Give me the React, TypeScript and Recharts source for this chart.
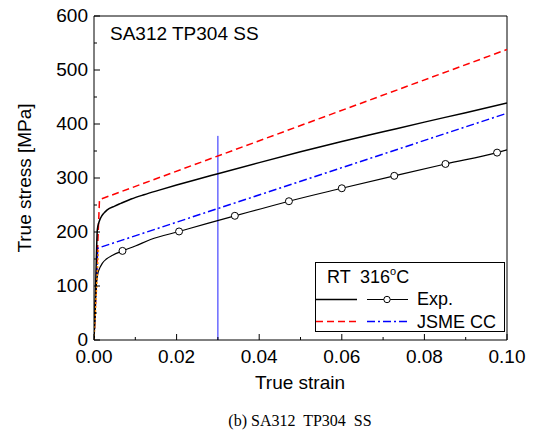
import React from 'react';
import { LineChart, Line, XAxis, YAxis, ReferenceLine } from 'recharts';

// RT experiment (solid black)
const rtStrain = [0, 0.0002, 0.0004, 0.0006, 0.0008, 0.0012, 0.0016, 0.0024, 0.0032, 0.005, 0.0065, 0.009, 0.0121, 0.016, 0.02, 0.0242, 0.03, 0.04, 0.05, 0.06, 0.07, 0.08, 0.09, 0.1];
const rtStress = [0, 45, 100, 160, 204, 218, 226, 235, 241, 248, 253, 261, 269, 278, 287, 296, 308, 328.5, 348.5, 367.5, 385.5, 403.5, 421, 439];

// 316C experiment (black with circles)
const htStrain = [0, 0.0003, 0.0006, 0.001, 0.0015, 0.002, 0.003, 0.0045, 0.0069, 0.01, 0.0137, 0.0206, 0.0275, 0.0341, 0.0405, 0.0472, 0.06, 0.0727, 0.0851, 0.0976, 0.1];
const htStress = [0, 60, 105, 125, 135, 142, 150, 157, 165, 174, 186, 201, 216, 230, 243, 257, 281, 304, 326, 347, 352];
const markerStrain = [0.0069, 0.0206, 0.0341, 0.0472, 0.06, 0.0727, 0.0851, 0.0976];
const markerStress = [165, 201, 230, 257, 281, 304, 326, 347];

// JSME CC curves
const jsmeRtStrain = [0, 0.00133, 0.1];
const jsmeRtStress = [0, 260, 538];
const jsmeHtStrain = [0, 0.0009, 0.1];
const jsmeHtStress = [0, 170, 420];
const elasticStrain = [0, 0.0011];
const elasticStress = [0, 170];

// vertical marker at 3% strain
const cutStrain = [0.03, 0.03];
const cutStress = [0, 378];

const xTicks = [0, 0.01, 0.02, 0.03, 0.04, 0.05, 0.06, 0.07, 0.08, 0.09, 0.1];
const yTicks = [0, 50, 100, 150, 200, 250, 300, 350, 400, 450, 500, 550, 600];

const zip = (xs: number[], ys: number[]) => xs.map((x, i) => ({ x, y: ys[i] }));

const FONT = '"Liberation Sans", Arial, sans-serif';

const YTick = (props: any) => {
  const { x, y, payload } = props;
  const major = payload.value % 100 === 0;
  return (
    <g>
      <line x1={x} x2={x + (major ? 6 : 3)} y1={y} y2={y} stroke="#000" />
      {major && (
        <text x={x - 6} y={y - 1} dy="0.36em" textAnchor="end" fontSize={19} fontFamily={FONT} fill="#000">
          {payload.value}
        </text>
      )}
    </g>
  );
};

const XTick = (props: any) => {
  const { x, y, payload } = props;
  const major = Math.round(payload.value * 100) % 2 === 0;
  return (
    <g>
      <line x1={x} x2={x} y1={y} y2={y - (major ? 6 : 3)} stroke="#000" />
      {major && (
        <text x={x} y={y + 23} textAnchor="middle" fontSize={19} fontFamily={FONT} fill="#000">
          {payload.value.toFixed(2)}
        </text>
      )}
    </g>
  );
};

export default function App() {
  return (
    <div style={{ position: 'relative', width: 538, height: 442, margin: -8, background: '#fff' }}>
      <LineChart width={538} height={442} margin={{ top: 16, right: 31, left: 0, bottom: 0 }}>
        <XAxis
          type="number"
          dataKey="x"
          domain={[0, 0.1]}
          ticks={xTicks}
          tick={<XTick />}
          tickLine={false}
          tickSize={0}
          tickMargin={0}
          height={102}
          axisLine={{ stroke: '#000' }}
          allowDataOverflow
        />
        <YAxis
          type="number"
          dataKey="y"
          domain={[0, 600]}
          ticks={yTicks}
          tick={<YTick />}
          tickLine={false}
          tickSize={0}
          tickMargin={0}
          width={94}
          axisLine={{ stroke: '#000' }}
          allowDataOverflow
        />
        <ReferenceLine y={600} stroke="#000" />
        <ReferenceLine x={0.1} stroke="#000" />
        <Line data={zip(cutStrain, cutStress)} dataKey="y" stroke="#2020ff" strokeWidth={1} dot={false} isAnimationActive={false} />
        <Line data={zip(jsmeRtStrain, jsmeRtStress)} dataKey="y" stroke="#ff0000" strokeWidth={1.5} strokeDasharray="7 4" dot={false} isAnimationActive={false} />
        <Line data={zip(jsmeHtStrain, jsmeHtStress)} dataKey="y" stroke="#0000ff" strokeWidth={1.5} strokeDasharray="8 3 2 3" dot={false} isAnimationActive={false} />
        <Line data={zip(rtStrain, rtStress)} type="monotone" dataKey="y" stroke="#000" strokeWidth={1.5} dot={false} isAnimationActive={false} />
        <Line data={zip(htStrain, htStress)} type="monotone" dataKey="y" stroke="#000" strokeWidth={1.2} dot={false} isAnimationActive={false} />
        <Line data={zip(elasticStrain, elasticStress)} dataKey="y" stroke="#ff8c00" strokeWidth={1.5} strokeDasharray="2 2" dot={false} isAnimationActive={false} />
        <Line
          data={zip(markerStrain, markerStress)}
          dataKey="y"
          stroke="none"
          dot={{ r: 3.5, fill: '#fff', stroke: '#000', strokeWidth: 1 }}
          isAnimationActive={false}
        />
      </LineChart>

      <svg width={538} height={442} style={{ position: 'absolute', left: 0, top: 0, pointerEvents: 'none' }} fontFamily={FONT}>
        <text x={110} y={40} fontSize={19}>SA312 TP304 SS</text>
        <text x={300} y={389} fontSize={19} textAnchor="middle">True strain</text>
        <text transform="translate(31,178) rotate(-90)" fontSize={19} textAnchor="middle">True stress [MPa]</text>

        {/* legend */}
        <rect x={315.5} y={262.5} width={189} height={69} fill="#fff" stroke="#000" />
        <text x={327} y={283} fontSize={18}>RT</text>
        <text x={360} y={283} fontSize={18}>
          316<tspan fontSize={11} dy={-8}>o</tspan><tspan dy={8}>C</tspan>
        </text>
        <line x1={316} x2={357} y1={299.5} y2={299.5} stroke="#000" strokeWidth={1.5} />
        <line x1={367} x2={408} y1={299.5} y2={299.5} stroke="#000" strokeWidth={1.2} />
        <circle cx={387} cy={299.5} r={3.2} fill="#fff" stroke="#000" />
        <text x={417} y={305} fontSize={18}>Exp.</text>
        <line x1={316} x2={357} y1={321.5} y2={321.5} stroke="#ff0000" strokeWidth={1.5} strokeDasharray="7 4" />
        <line x1={367} x2={408} y1={321.5} y2={321.5} stroke="#0000ff" strokeWidth={1.5} strokeDasharray="8 3 2 3" />
        <text x={417} y={328} fontSize={18}>JSME CC</text>

        <text x={300} y={426} fontSize={16} textAnchor="middle" fontFamily='"Liberation Serif", "Times New Roman", serif'>
          (b) SA312{'\u00a0'} TP304{'\u00a0'} SS
        </text>
      </svg>
    </div>
  );
}
